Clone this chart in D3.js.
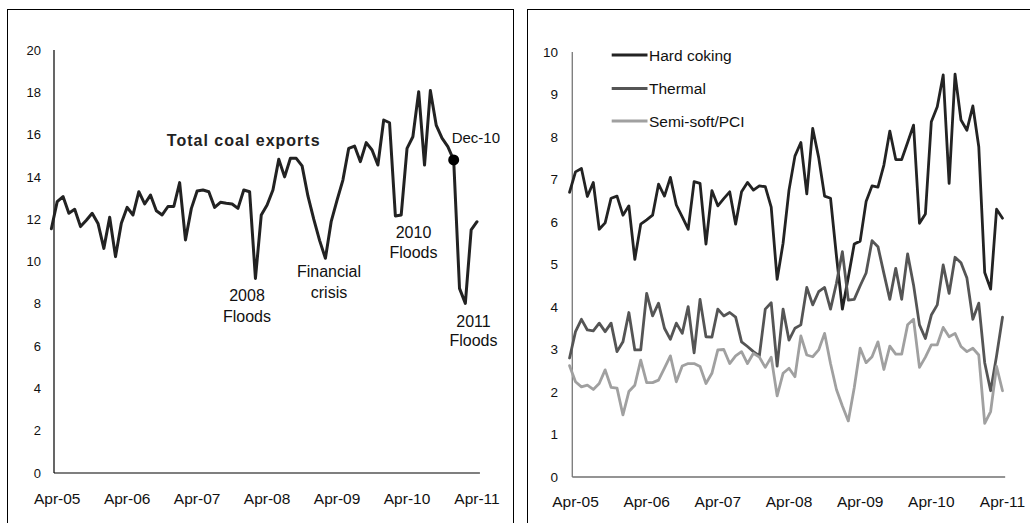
<!DOCTYPE html>
<html><head><meta charset="utf-8">
<script src="https://cdn.jsdelivr.net/npm/d3@7"></script>
<style>
html,body{margin:0;padding:0;background:#fff;}
svg{display:block;font-family:"Liberation Sans",Arial,sans-serif;}
</style></head>
<body>
<svg id="c" width="1030" height="523"></svg>
<script>
// month index: 0 = Apr-05, data start at -1 (Mar-05) and end at 72 (Apr-11)
const startMonth = -1;
const tickMonths = [0, 12, 24, 36, 48, 60, 72];
const tickLabels = ["Apr-05","Apr-06","Apr-07","Apr-08","Apr-09","Apr-10","Apr-11"];
const leftYTicks = [0,2,4,6,8,10,12,14,16,18,20];
const rightYTicks = [0,1,2,3,4,5,6,7,8,9,10];

const totalExports = [11.55,12.83,13.07,12.28,12.47,11.65,11.95,12.28,11.8,10.62,12.09,10.23,11.81,12.56,12.2,13.3,12.72,13.14,12.4,12.2,12.6,12.6,13.73,11.02,12.5,13.33,13.38,13.3,12.56,12.8,12.75,12.72,12.51,13.38,13.3,9.2,12.2,12.67,13.38,14.83,14.0,14.88,14.88,14.52,13.1,12.0,11.0,10.15,11.9,12.9,13.85,15.35,15.46,14.72,15.62,15.27,14.56,16.69,16.56,12.15,12.2,15.35,15.9,18.03,14.56,18.08,16.45,15.83,15.43,14.8,8.73,8.02,11.49,11.88];

const seriesNames = ["Hard coking","Thermal","Semi-soft/PCI"];
const hardCoking = [6.7,7.18,7.26,6.6,6.93,5.83,5.98,6.56,6.61,6.16,6.38,5.12,5.95,6.05,6.16,6.89,6.61,7.05,6.4,6.12,5.83,6.95,6.91,5.48,6.74,6.38,6.55,6.71,5.95,6.71,6.93,6.75,6.85,6.83,6.35,4.65,5.5,6.75,7.55,7.87,6.66,8.2,7.52,6.61,6.56,5.2,3.95,4.7,5.48,5.55,6.48,6.85,6.82,7.34,8.14,7.47,7.47,7.87,8.28,5.97,6.19,8.36,8.71,9.46,6.91,9.48,8.4,8.16,8.73,7.77,4.81,4.42,6.3,6.09];
const thermal = [2.8,3.42,3.71,3.46,3.44,3.62,3.42,3.62,2.95,3.18,3.87,2.99,2.99,4.32,3.79,4.09,3.5,3.24,3.62,3.38,4.01,2.92,4.18,3.3,3.29,3.95,3.79,3.87,3.76,3.18,3.07,2.95,2.85,3.95,4.1,2.61,3.95,3.22,3.5,3.58,4.46,4.05,4.36,4.46,3.95,4.56,5.3,4.16,4.18,4.5,4.8,5.56,5.42,4.79,4.18,4.91,4.18,5.25,4.52,3.58,3.26,3.81,4.05,4.99,4.32,5.17,5.04,4.68,3.71,4.09,2.69,2.03,2.85,3.76];
const semiSoft = [2.62,2.24,2.12,2.16,2.06,2.2,2.52,2.11,2.09,1.46,2.01,2.16,2.75,2.22,2.22,2.28,2.56,2.85,2.24,2.61,2.67,2.67,2.6,2.2,2.44,2.99,3.0,2.67,2.85,2.95,2.67,2.91,2.82,2.58,2.82,1.91,2.44,2.56,2.36,3.32,2.87,2.83,2.99,3.38,2.67,2.06,1.67,1.32,2.1,3.03,2.69,2.83,3.18,2.53,3.08,2.89,2.89,3.58,3.71,2.58,2.82,3.11,3.11,3.52,3.3,3.38,3.07,2.95,3.03,2.87,1.26,1.54,2.6,2.03];
const seriesColors = ["#232323","#555555","#a0a0a0"];

const svg = d3.select("#c");
const FONT = '"Liberation Sans",Arial,sans-serif';

// ---------- Left panel ----------
svg.append("rect").attr("x",7.5).attr("y",9.5).attr("width",506).attr("height",530)
  .attr("fill","none").attr("stroke","#000").attr("stroke-width",1);
svg.append("rect").attr("x",527.5).attr("y",9.5).attr("width",520).attr("height",530)
  .attr("fill","none").attr("stroke","#000").attr("stroke-width",1);

const xL = d3.scaleLinear().domain([0,72]).range([57.2,477]);
const yL = d3.scaleLinear().domain([0,20]).range([473,50]);

const gL = svg.append("g");
// axes lines
gL.append("line").attr("x1",54).attr("x2",54).attr("y1",yL(20)).attr("y2",yL(0)).attr("stroke","#000").attr("stroke-width",1.2);
gL.append("line").attr("x1",54).attr("x2",xL(72.5)).attr("y1",yL(0)).attr("y2",yL(0)).attr("stroke","#000").attr("stroke-width",1.2);
gL.selectAll("text.yt").data(leftYTicks).join("text").attr("class","yt")
  .attr("x",41).attr("y",d=>yL(d)).attr("dy","0.36em").attr("text-anchor","end")
  .attr("font-size",13).attr("fill","#111").text(d=>d);
gL.selectAll("text.xt").data(tickMonths).join("text").attr("class","xt")
  .attr("x",d=>xL(d)).attr("y",yL(0)+31).attr("text-anchor","middle")
  .attr("font-size",15.5).attr("fill","#111").text((d,i)=>tickLabels[i]);

const lineL = d3.line().x((d,i)=>xL(i+startMonth)).y(d=>yL(d));
gL.append("path").datum(totalExports).attr("d",lineL).attr("fill","none")
  .attr("stroke","#222").attr("stroke-width",3).attr("stroke-linejoin","round").attr("stroke-linecap","round");

// Dec-10 marker
const decIdx = 68 - startMonth;
gL.append("circle").attr("cx",xL(68)).attr("cy",yL(totalExports[decIdx])).attr("r",5.5).attr("fill","#000");

// annotations
gL.append("text").attr("x",243.7).attr("y",146).attr("text-anchor","middle")
  .attr("font-size",16).attr("font-weight","bold").attr("letter-spacing","1px").attr("fill","#222").text("Total coal exports");
gL.append("text").attr("x",451.7).attr("y",143).attr("font-size",15).attr("fill","#111").text("Dec-10");
const notes = [
  {x:247, y:[300.7,322], t:["2008","Floods"]},
  {x:329, y:[276.7,297.5], t:["Financial","crisis"]},
  {x:413.5, y:[238,257.7], t:["2010","Floods"]},
  {x:473.5, y:[326.7,346], t:["2011","Floods"]}
];
notes.forEach(n=>{
  n.t.forEach((s,i)=>{
    gL.append("text").attr("x",n.x).attr("y",n.y[i]).attr("text-anchor","middle")
      .attr("font-size",16).attr("fill","#111").text(s);
  });
});

// ---------- Right panel ----------
const xR = d3.scaleLinear().domain([0,72]).range([575.5,1002.5]);
const yR = d3.scaleLinear().domain([0,10]).range([477,52]);
const gR = svg.append("g");
gR.append("line").attr("x1",572.3).attr("x2",572.3).attr("y1",yR(10)).attr("y2",yR(0)).attr("stroke","#808080").attr("stroke-width",1.4);
gR.append("line").attr("x1",572.3).attr("x2",xR(72.45)).attr("y1",yR(0)).attr("y2",yR(0)).attr("stroke","#707070").attr("stroke-width",1.4);
gR.selectAll("text.yt").data(rightYTicks).join("text").attr("class","yt")
  .attr("x",558).attr("y",d=>yR(d)).attr("dy","0.36em").attr("text-anchor","end")
  .attr("font-size",13.5).attr("fill","#111").text(d=>d);
gR.selectAll("text.xt").data(tickMonths).join("text").attr("class","xt")
  .attr("x",d=>xR(d)).attr("y",yR(0)+30).attr("text-anchor","middle")
  .attr("font-size",15.5).attr("fill","#111").text((d,i)=>tickLabels[i]);

const lineR = d3.line().x((d,i)=>xR(i+startMonth)).y(d=>yR(d));
[hardCoking, thermal, semiSoft].forEach((s,k)=>{
  gR.append("path").datum(s).attr("d",lineR).attr("fill","none")
    .attr("stroke",seriesColors[k]).attr("stroke-width",2.8)
    .attr("stroke-linejoin","round").attr("stroke-linecap","round");
});

// legend
const legY = [55, 88.5, 121];
seriesNames.forEach((nm,k)=>{
  gR.append("line").attr("x1",611.7).attr("x2",647.5).attr("y1",legY[k]).attr("y2",legY[k])
    .attr("stroke",seriesColors[k]).attr("stroke-width",2.8);
  gR.append("text").attr("x",649).attr("y",legY[k]).attr("dy","0.36em")
    .attr("font-size",15.5).attr("fill","#111").text(nm);
});
</script>
</body></html>
